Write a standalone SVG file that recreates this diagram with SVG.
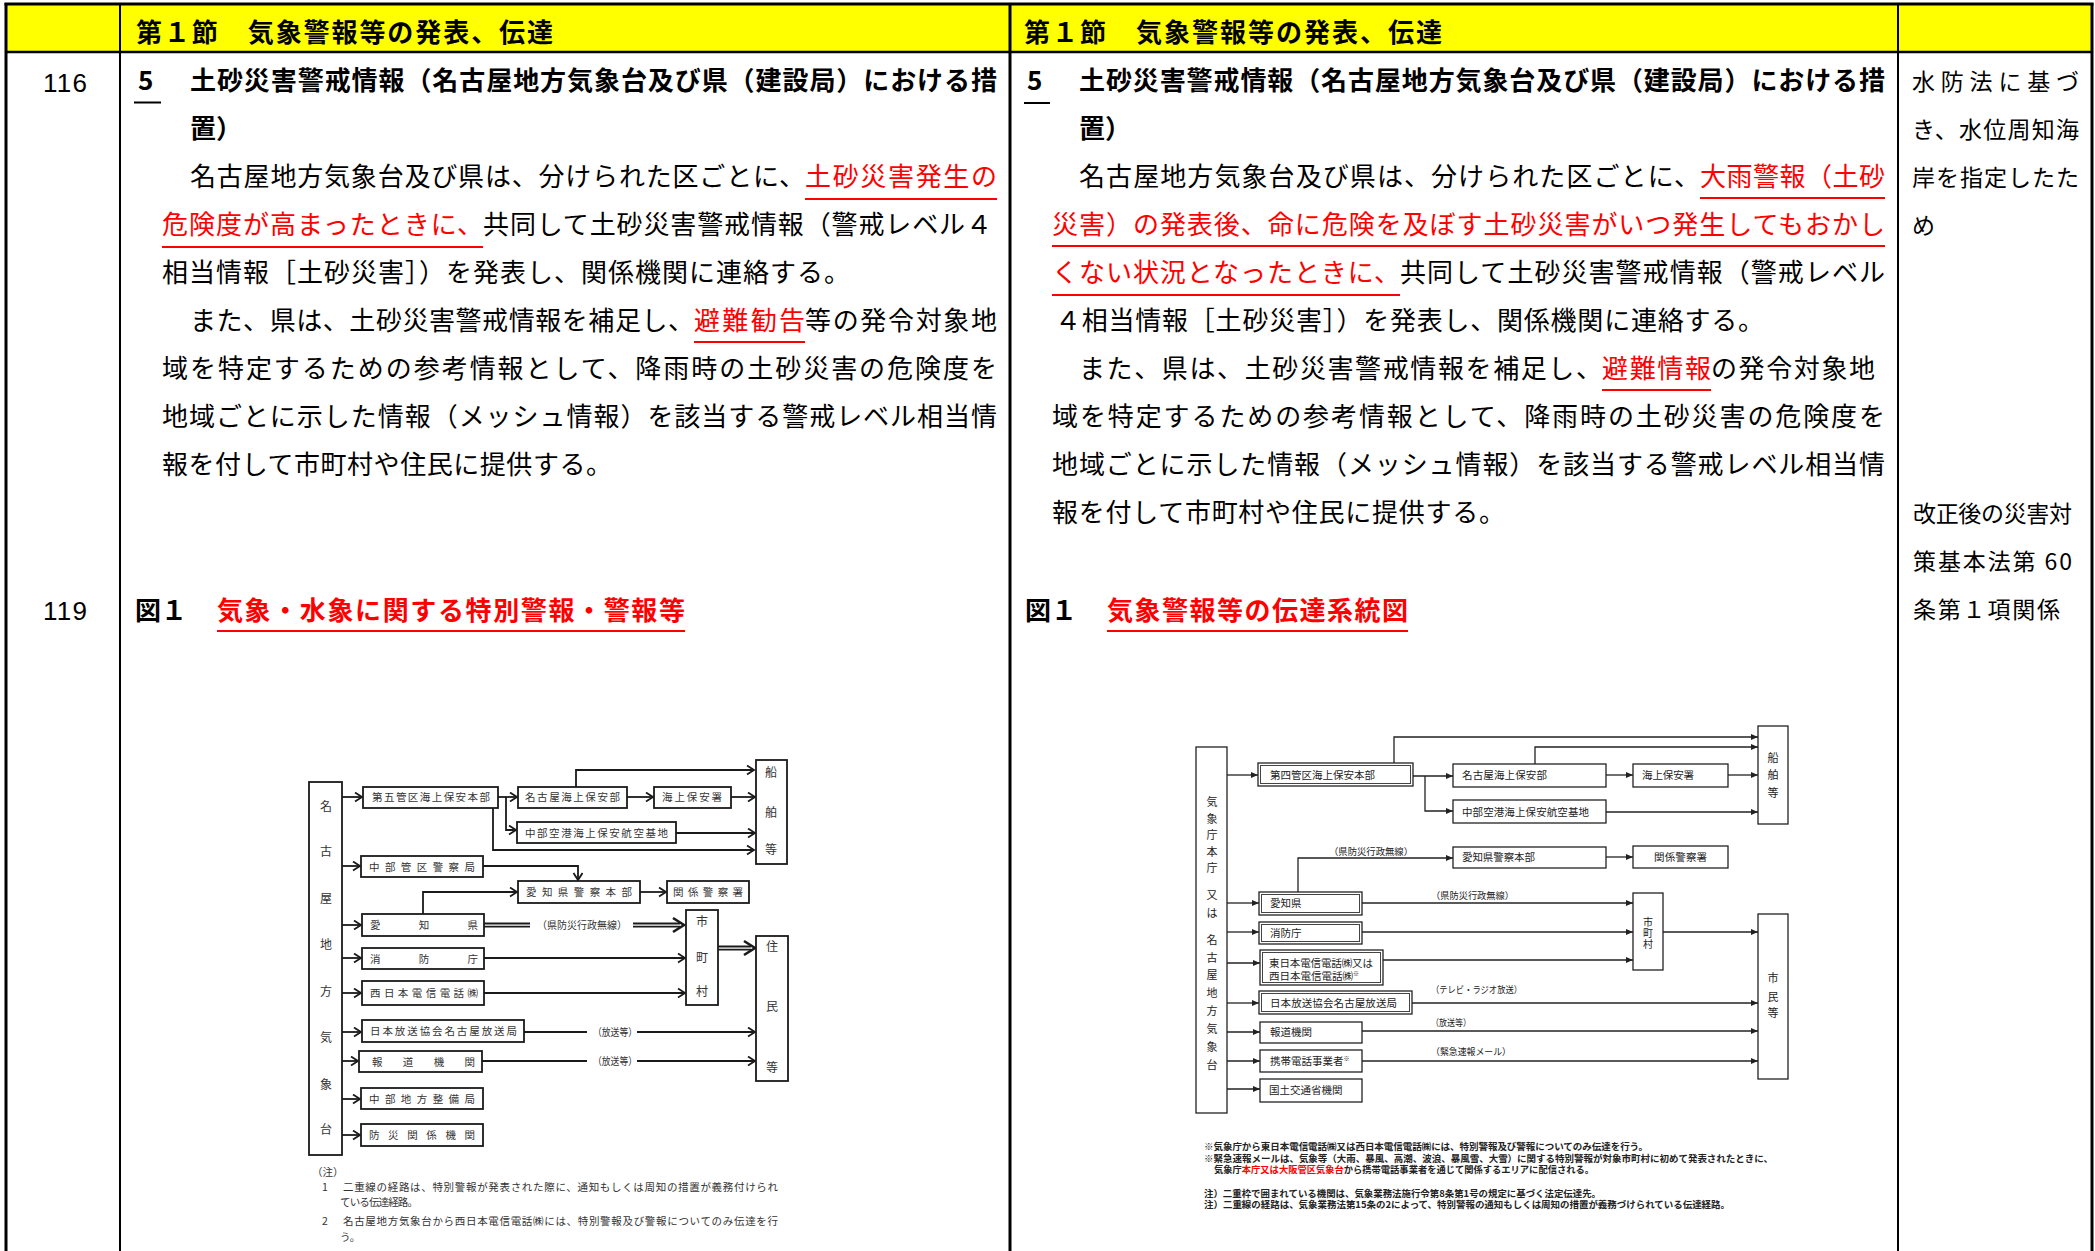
<svg xmlns="http://www.w3.org/2000/svg" width="2095" height="1251" viewBox="0 0 2095 1251">
<style>
text{font-family:"Noto Sans CJK JP","Noto Sans",sans-serif;}
.bd{font-size:26px;fill:#000}
.bb{font-size:26px;font-weight:700;fill:#000}
.rd{fill:#f00}
.num{font-family:"Liberation Sans",sans-serif;font-size:26px;fill:#000}
.c3{font-size:23px;fill:#000}
.ul{stroke:#f00;stroke-width:2}
.ulk{stroke:#000;stroke-width:2}
.ob{fill:#fff;stroke:#1a1a1a;stroke-width:1.8}
.ot{font-size:10.5px;fill:#333}
.ov{font-size:12px;fill:#333;text-anchor:middle}
.oc{fill:none;stroke:#1a1a1a;stroke-width:1.8}
.och{fill:none;stroke:#1a1a1a;stroke-width:2.6}
.nb{fill:#fff;stroke:#222;stroke-width:1.3}
.nbd{fill:none;stroke:#444;stroke-width:1}
.nt{font-size:10.5px;fill:#222}
.nv{font-size:11px;fill:#222;text-anchor:middle}
.nl{font-size:9.5px;fill:#222}
.nc{fill:none;stroke:#222;stroke-width:1.3}
.nn{font-size:9.5px;font-weight:700;fill:#222}
</style>
<defs>
<marker id="oa" markerUnits="userSpaceOnUse" markerWidth="12" markerHeight="12" refX="8" refY="5" orient="auto">
<path d="M1,0.5 L8,5 L1,9.5" fill="none" stroke="#1a1a1a" stroke-width="1.8"/>
</marker>
<marker id="na" markerUnits="userSpaceOnUse" markerWidth="9" markerHeight="8" refX="7" refY="3" orient="auto">
<path d="M0,0 L7,3 L0,6 z" fill="#222"/>
</marker>
</defs>

<!-- table -->
<g id="table">
<rect x="6" y="4" width="2086" height="48" fill="#ffff00"/>
<line x1="4.5" y1="4" x2="2093.5" y2="4" stroke="#000" stroke-width="3"/>
<line x1="6" y1="3" x2="6" y2="1251" stroke="#000" stroke-width="3"/>
<line x1="2092" y1="3" x2="2092" y2="1251" stroke="#000" stroke-width="3"/>
<line x1="6" y1="52" x2="2092" y2="52" stroke="#000" stroke-width="2.5"/>
<line x1="120" y1="4" x2="120" y2="1251" stroke="#000" stroke-width="2"/>
<line x1="1010" y1="4" x2="1010" y2="1251" stroke="#000" stroke-width="3"/>
<line x1="1898" y1="4" x2="1898" y2="1251" stroke="#000" stroke-width="2"/>
</g>

<g id="header">
<text class="bb" x="136" y="42" textLength="417">第１節　気象警報等の発表、伝達</text>
<text class="bb" x="1024" y="42" textLength="418">第１節　気象警報等の発表、伝達</text>
</g>

<g id="row-numbers">
<text class="num" x="43" y="92" textLength="44">116</text>
<text class="num" x="43" y="620" textLength="44">119</text>
</g>

<!-- column 1: before -->
<g id="col-before">
<text class="bb" x="138" y="90" textLength="19">5</text>
<line class="ulk" x1="134" y1="102.5" x2="161" y2="102.5"/>
<text class="bb" x="190" y="90" textLength="807">土砂災害警戒情報（名古屋地方気象台及び県（建設局）における措</text>
<text class="bb" x="190" y="138">置）</text>
<text class="bd" x="190" y="186" textLength="615">名古屋地方気象台及び県は、分けられた区ごとに、</text>
<text class="bd rd" x="805" y="186" textLength="192">土砂災害発生の</text>
<line class="ul" x1="805" y1="199" x2="997" y2="199"/>
<text class="bd rd" x="162" y="234" textLength="321">危険度が高まったときに、</text>
<line class="ul" x1="162" y1="247" x2="483" y2="247"/>
<text class="bd" x="483" y="234" textLength="509">共同して土砂災害警戒情報（警戒レベル４</text>
<text class="bd" x="162" y="282" textLength="688">相当情報［土砂災害］）を発表し、関係機関に連絡する。</text>
<text class="bd" x="190" y="330" textLength="504">また、県は、土砂災害警戒情報を補足し、</text>
<text class="bd rd" x="694" y="330" textLength="111">避難勧告</text>
<line class="ul" x1="694" y1="342" x2="805" y2="342"/>
<text class="bd" x="805" y="330" textLength="192">等の発令対象地</text>
<text class="bd" x="162" y="378" textLength="835">域を特定するための参考情報として、降雨時の土砂災害の危険度を</text>
<text class="bd" x="162" y="426" textLength="835">地域ごとに示した情報（メッシュ情報）を該当する警戒レベル相当情</text>
<text class="bd" x="162" y="474" textLength="450">報を付して市町村や住民に提供する。</text>
<text class="bb" x="135" y="620">図１</text>
<text class="bb rd" x="217" y="620" textLength="468">気象・水象に関する特別警報・警報等</text>
<line class="ul" x1="217" y1="631" x2="685" y2="631" stroke-width="2.5"/>
</g>

<!-- column 2: after -->
<g id="col-after">
<text class="bb" x="1027" y="90" textLength="19">5</text>
<line class="ulk" x1="1024" y1="103" x2="1050" y2="103"/>
<text class="bb" x="1079" y="90" textLength="806">土砂災害警戒情報（名古屋地方気象台及び県（建設局）における措</text>
<text class="bb" x="1079" y="138">置）</text>
<text class="bd" x="1079" y="186" textLength="621">名古屋地方気象台及び県は、分けられた区ごとに、</text>
<text class="bd rd" x="1700" y="186" textLength="185">大雨警報（土砂</text>
<line class="ul" x1="1700" y1="198" x2="1885" y2="198"/>
<text class="bd rd" x="1052" y="234" textLength="833">災害）の発表後、命に危険を及ぼす土砂災害がいつ発生してもおかし</text>
<line class="ul" x1="1052" y1="246" x2="1885" y2="246"/>
<text class="bd rd" x="1052" y="282" textLength="348">くない状況となったときに、</text>
<line class="ul" x1="1052" y1="295" x2="1400" y2="295"/>
<text class="bd" x="1400" y="282" textLength="485">共同して土砂災害警戒情報（警戒レベル</text>
<text class="bd" x="1055" y="330" textLength="709">４相当情報［土砂災害］）を発表し、関係機関に連絡する。</text>
<text class="bd" x="1079" y="378" textLength="523">また、県は、土砂災害警戒情報を補足し、</text>
<text class="bd rd" x="1602" y="378" textLength="109">避難情報</text>
<line class="ul" x1="1602" y1="390" x2="1711" y2="390"/>
<text class="bd" x="1711" y="378" textLength="164">の発令対象地</text>
<text class="bd" x="1052" y="426" textLength="833">域を特定するための参考情報として、降雨時の土砂災害の危険度を</text>
<text class="bd" x="1052" y="474" textLength="833">地域ごとに示した情報（メッシュ情報）を該当する警戒レベル相当情</text>
<text class="bd" x="1052" y="522" textLength="453">報を付して市町村や住民に提供する。</text>
<text class="bb" x="1025" y="620">図１</text>
<text class="bb rd" x="1107" y="620" textLength="301">気象警報等の伝達系統図</text>
<line class="ul" x1="1107" y1="631" x2="1408" y2="631" stroke-width="2.5"/>
</g>

<!-- column 3: remarks -->
<g id="col-remarks">
<text class="c3" x="1912" y="90" textLength="167">水防法に基づ</text>
<text class="c3" x="1912" y="138" textLength="167">き、水位周知海</text>
<text class="c3" x="1912" y="186" textLength="167">岸を指定したた</text>
<text class="c3" x="1912" y="234">め</text>
<text class="c3" x="1913" y="522" textLength="159">改正後の災害対</text>
<text class="c3" x="1913" y="570" textLength="159">策基本法第 60</text>
<text class="c3" x="1913" y="618" textLength="147">条第１項関係</text>
</g>

<!-- ===== old diagram ===== -->
<g id="old-connectors">
<path class="oc" d="M342,797 H362" marker-end="url(#oa)"/>
<path class="oc" d="M498,797 H517" marker-end="url(#oa)"/>
<path class="oc" d="M506,797 V830 H516" marker-end="url(#oa)"/>
<path class="oc" d="M493,808 V850 H754" marker-end="url(#oa)"/>
<path class="oc" d="M576,787 V770 H754" marker-end="url(#oa)"/>
<path class="oc" d="M627,797 H653" marker-end="url(#oa)"/>
<path class="oc" d="M731,797 H755" marker-end="url(#oa)"/>
<path class="oc" d="M676,833 H755" marker-end="url(#oa)"/>
<path class="oc" d="M342,866 H360" marker-end="url(#oa)"/>
<path class="oc" d="M483,866 H578 V880" marker-end="url(#oa)"/>
<path class="oc" d="M423,914 V892 H517" marker-end="url(#oa)"/>
<path class="oc" d="M640,892 H666" marker-end="url(#oa)"/>
<path class="oc" d="M342,925 H361" marker-end="url(#oa)"/>
<path class="oc" d="M484,923.5 H530 M484,926.7 H530 M633,923.5 H680 M633,926.7 H680" stroke-width="1.2"/>
<path class="och" d="M673,918 L684,925 L673,932"/>
<text class="ot" x="537" y="929" textLength="90" lengthAdjust="spacingAndGlyphs">（県防災行政無線）</text>
<path class="oc" d="M342,958 H361" marker-end="url(#oa)"/>
<path class="oc" d="M484,958 H685" marker-end="url(#oa)" stroke-width="1.5"/>
<path class="oc" d="M342,993 H361" marker-end="url(#oa)"/>
<path class="oc" d="M484,993 H685" marker-end="url(#oa)" stroke-width="1.5"/>
<path class="oc" d="M718,946.5 H751 M718,949.7 H751" stroke-width="1.2"/>
<path class="och" d="M744,941 L755,948 L744,955"/>
<path class="oc" d="M342,1032 H361" marker-end="url(#oa)"/>
<path class="oc" d="M524,1032 H587 M637,1032 H754" stroke-width="1.5"/>
<path class="oc" d="M740,1032 H755" marker-end="url(#oa)" stroke-width="1.5"/>
<text class="ot" x="593" y="1035.5" textLength="44" lengthAdjust="spacingAndGlyphs">（放送等）</text>
<path class="oc" d="M342,1061 H358" marker-end="url(#oa)"/>
<path class="oc" d="M482,1061 H587 M637,1061 H754" stroke-width="1.5"/>
<path class="oc" d="M740,1061 H755" marker-end="url(#oa)" stroke-width="1.5"/>
<text class="ot" x="593" y="1065" textLength="44" lengthAdjust="spacingAndGlyphs">（放送等）</text>
<path class="oc" d="M342,1099 H360" marker-end="url(#oa)"/>
<path class="oc" d="M342,1135 H360" marker-end="url(#oa)"/>
</g>

<g id="old-jma">
<rect class="ob" x="309" y="782" width="33" height="373"/>
<text class="ov" x="326" y="811">名</text>
<text class="ov" x="326" y="856">古</text>
<text class="ov" x="326" y="903">屋</text>
<text class="ov" x="326" y="949">地</text>
<text class="ov" x="326" y="996">方</text>
<text class="ov" x="326" y="1042">気</text>
<text class="ov" x="326" y="1089">象</text>
<text class="ov" x="326" y="1134">台</text>
</g>
<g id="old-coastguard5"><rect class="ob" x="363" y="787" width="135" height="21"/><text class="ot" x="372" y="801" textLength="118">第五管区海上保安本部</text></g>
<g id="old-nagoya-cg"><rect class="ob" x="518" y="787" width="109" height="21"/><text class="ot" x="525" y="801" textLength="95">名古屋海上保安部</text></g>
<g id="old-cg-station"><rect class="ob" x="654" y="787" width="77" height="21"/><text class="ot" x="662" y="801" textLength="60">海上保安署</text></g>
<g id="old-airbase"><rect class="ob" x="517" y="822" width="159" height="21"/><text class="ot" x="525" y="836.5" textLength="143">中部空港海上保安航空基地</text></g>
<g id="old-ships"><rect class="ob" x="756" y="760" width="31" height="104"/>
<text class="ov" x="771" y="777">船</text><text class="ov" x="771" y="817">舶</text><text class="ov" x="771" y="854">等</text></g>
<g id="old-police-bureau"><rect class="ob" x="361" y="856" width="122" height="21"/><text class="ot" x="369" y="870.5" textLength="106">中部管区警察局</text></g>
<g id="old-pref-police"><rect class="ob" x="518" y="881" width="122" height="22"/><text class="ot" x="526" y="896" textLength="106">愛知県警察本部</text></g>
<g id="old-police"><rect class="ob" x="667" y="881" width="82" height="22"/><text class="ot" x="673" y="896" textLength="70">関係警察署</text></g>
<g id="old-aichi"><rect class="ob" x="362" y="914" width="122" height="22"/><text class="ot" x="370" y="929" textLength="108">愛知県</text></g>
<g id="old-municipal"><rect class="ob" x="686" y="910" width="32" height="95"/>
<text class="ov" x="702" y="926">市</text><text class="ov" x="702" y="962">町</text><text class="ov" x="702" y="996">村</text></g>
<g id="old-fdma"><rect class="ob" x="362" y="948" width="122" height="21"/><text class="ot" x="370" y="962.5" textLength="108">消防庁</text></g>
<g id="old-ntt"><rect class="ob" x="362" y="981" width="122" height="24"/><text class="ot" x="370" y="997" textLength="108">西日本電信電話㈱</text></g>
<g id="old-residents"><rect class="ob" x="756" y="936" width="32" height="145"/>
<text class="ov" x="772" y="951">住</text><text class="ov" x="772" y="1011">民</text><text class="ov" x="772" y="1072">等</text></g>
<g id="old-nhk"><rect class="ob" x="362" y="1020" width="162" height="22"/><text class="ot" x="370" y="1035" textLength="147">日本放送協会名古屋放送局</text></g>
<g id="old-press"><rect class="ob" x="359" y="1051" width="123" height="21"/><text class="ot" x="372" y="1065.5" textLength="103">報道機関</text></g>
<g id="old-mlit"><rect class="ob" x="361" y="1088" width="122" height="21"/><text class="ot" x="369" y="1102.5" textLength="106">中部地方整備局</text></g>
<g id="old-disaster"><rect class="ob" x="361" y="1124" width="122" height="22"/><text class="ot" x="369" y="1139" textLength="106">防災関係機関</text></g>

<g id="old-notes">
<text class="ot" x="312" y="1176">（注）</text>
<text class="ot" x="322" y="1191">1</text>
<text class="ot" x="343" y="1191" textLength="435">二重線の経路は、特別警報が発表された際に、通知もしくは周知の措置が義務付けられ</text>
<text class="ot" x="340" y="1206" textLength="78">ている伝達経路。</text>
<text class="ot" x="322" y="1225">2</text>
<text class="ot" x="343" y="1225" textLength="435">名古屋地方気象台から西日本電信電話㈱には、特別警報及び警報についてのみ伝達を行</text>
<text class="ot" x="340" y="1241">う。</text>
</g>

<!-- ===== new diagram ===== -->
<g id="new-connectors">
<path class="nc" d="M1227,775 H1258" marker-end="url(#na)"/>
<path class="nc" d="M1394,763 V737 H1758" marker-end="url(#na)"/>
<path class="nc" d="M1413,776 H1453" marker-end="url(#na)"/>
<path class="nc" d="M1425,776 V811 H1453" marker-end="url(#na)"/>
<path class="nc" d="M1535,764 V747 H1758" marker-end="url(#na)"/>
<path class="nc" d="M1606,775 H1633" marker-end="url(#na)"/>
<path class="nc" d="M1728,775 H1758" marker-end="url(#na)"/>
<path class="nc" d="M1606,812 H1758" marker-end="url(#na)"/>
<path class="nc" d="M1298,892 V858 H1453" marker-end="url(#na)"/>
<text class="nl" x="1329" y="854.5" textLength="84" lengthAdjust="spacingAndGlyphs">（県防災行政無線）</text>
<path class="nc" d="M1606,857 H1633" marker-end="url(#na)"/>
<path class="nc" d="M1227,903 H1259" marker-end="url(#na)"/>
<path class="nc" d="M1362,903 H1633" marker-end="url(#na)" stroke-width="1.8"/>
<text class="nl" x="1431" y="899" textLength="83" lengthAdjust="spacingAndGlyphs">（県防災行政無線）</text>
<path class="nc" d="M1227,932 H1259" marker-end="url(#na)"/>
<path class="nc" d="M1362,932 H1633" marker-end="url(#na)"/>
<path class="nc" d="M1227,963 H1260" marker-end="url(#na)"/>
<path class="nc" d="M1383,960 H1633" marker-end="url(#na)"/>
<path class="nc" d="M1663,932 H1758" marker-end="url(#na)" stroke-width="1.8"/>
<path class="nc" d="M1227,1003 H1259" marker-end="url(#na)"/>
<path class="nc" d="M1412,1003 H1758" marker-end="url(#na)" stroke-width="1.8"/>
<text class="nl" x="1431" y="992.5" textLength="91" lengthAdjust="spacingAndGlyphs">（テレビ・ラジオ放送）</text>
<path class="nc" d="M1227,1032 H1260" marker-end="url(#na)"/>
<path class="nc" d="M1362,1031 H1758" marker-end="url(#na)"/>
<text class="nl" x="1431" y="1025.5" textLength="40" lengthAdjust="spacingAndGlyphs">（放送等）</text>
<path class="nc" d="M1227,1061 H1260" marker-end="url(#na)"/>
<path class="nc" d="M1362,1061 H1758" marker-end="url(#na)"/>
<text class="nl" x="1431" y="1055" textLength="80" lengthAdjust="spacingAndGlyphs">（緊急速報メール）</text>
<path class="nc" d="M1227,1089 H1260" marker-end="url(#na)"/>
</g>

<g id="new-jma">
<rect class="nb" x="1196" y="747" width="31" height="366"/>
<text class="nv rd" x="1212" y="806">気</text>
<text class="nv rd" x="1212" y="823">象</text>
<text class="nv rd" x="1212" y="839">庁</text>
<text class="nv rd" x="1212" y="856">本</text>
<text class="nv rd" x="1212" y="872">庁</text>
<text class="nv rd" x="1212" y="899">又</text>
<text class="nv rd" x="1212" y="917">は</text>
<text class="nv" x="1212" y="944">名</text>
<text class="nv" x="1212" y="962">古</text>
<text class="nv" x="1212" y="979">屋</text>
<text class="nv" x="1212" y="997">地</text>
<text class="nv" x="1212" y="1015">方</text>
<text class="nv" x="1212" y="1033">気</text>
<text class="nv" x="1212" y="1051">象</text>
<text class="nv" x="1212" y="1069">台</text>
</g>
<g id="new-coastguard4"><rect class="nb" x="1258" y="763" width="155" height="23"/><rect class="nbd" x="1260.5" y="765.5" width="150" height="18"/><text class="nt" x="1270" y="778.5" textLength="105">第四管区海上保安本部</text></g>
<g id="new-nagoya-cg"><rect class="nb" x="1453" y="764" width="153" height="23"/><text class="nt" x="1462" y="779" textLength="85">名古屋海上保安部</text></g>
<g id="new-cg-station"><rect class="nb" x="1633" y="764" width="95" height="23"/><text class="nt" x="1642" y="779" textLength="52">海上保安署</text></g>
<g id="new-airbase"><rect class="nb" x="1453" y="800" width="153" height="23"/><text class="nt" x="1462" y="815.5" textLength="127">中部空港海上保安航空基地</text></g>
<g id="new-ships"><rect class="nb" x="1758" y="726" width="30" height="98"/>
<text class="nv" x="1773" y="762">船</text><text class="nv" x="1773" y="779">舶</text><text class="nv" x="1773" y="797">等</text></g>
<g id="new-pref-police"><rect class="nb" x="1453" y="847" width="153" height="21"/><text class="nt" x="1462" y="861" textLength="73">愛知県警察本部</text></g>
<g id="new-police"><rect class="nb" x="1633" y="846" width="95" height="22"/><text class="nt" x="1654" y="860.5" textLength="53">関係警察署</text></g>
<g id="new-aichi"><rect class="nb" x="1259" y="892" width="103" height="23"/><rect class="nbd" x="1261.5" y="894.5" width="98" height="18"/><text class="nt" x="1270" y="907">愛知県</text></g>
<g id="new-municipal"><rect class="nb" x="1633" y="893" width="30" height="77"/>
<text class="nv" x="1648" y="926" style="font-size:10px">市</text><text class="nv" x="1648" y="937" style="font-size:10px">町</text><text class="nv" x="1648" y="948" style="font-size:10px">村</text></g>
<g id="new-fdma"><rect class="nb" x="1259" y="922" width="103" height="22"/><rect class="nbd" x="1261.5" y="924.5" width="98" height="17"/><text class="nt" x="1270" y="936.5">消防庁</text></g>
<g id="new-ntt"><rect class="nb" x="1260" y="950" width="123" height="35"/><rect class="nbd" x="1262.5" y="952.5" width="118" height="30"/>
<text class="nt rd" x="1269" y="966.5" textLength="104">東日本電信電話㈱又は</text>
<text class="nt rd" x="1269" y="980">西日本電信電話㈱<tspan style="font-size:6px" dy="-4">※</tspan></text></g>
<g id="new-residents"><rect class="nb" x="1758" y="914" width="30" height="165"/>
<text class="nv" x="1773" y="982">市</text><text class="nv" x="1773" y="1001">民</text><text class="nv" x="1773" y="1017">等</text></g>
<g id="new-nhk"><rect class="nb" x="1259" y="991" width="153" height="23"/><rect class="nbd" x="1261.5" y="993.5" width="148" height="18"/><text class="nt" x="1270" y="1006.5" textLength="127">日本放送協会名古屋放送局</text></g>
<g id="new-press"><rect class="nb" x="1260" y="1022" width="102" height="21"/><text class="nt" x="1270" y="1036">報道機関</text></g>
<g id="new-mobile"><rect class="nb" x="1260" y="1050" width="102" height="22"/><text class="nt" x="1270" y="1065">携帯電話事業者<tspan style="font-size:6px" dy="-4">※</tspan></text></g>
<g id="new-mlit"><rect class="nb" x="1260" y="1079" width="102" height="23"/><text class="nt rd" x="1269" y="1094">国土交通省機関</text></g>

<g id="new-notes">
<text class="nn rd" x="1204" y="1150" textLength="444">※気象庁から東日本電信電話㈱又は西日本電信電話㈱には、特別警報及び警報についてのみ伝達を行う。</text>
<text class="nn" x="1204" y="1162" textLength="569" lengthAdjust="spacingAndGlyphs">※緊急速報メールは、気象等（大雨、暴風、高潮、波浪、暴風雪、大雪）に関する特別警報が対象市町村に初めて発表されたときに、</text>
<text class="nn" x="1214" y="1173" textLength="380" lengthAdjust="spacingAndGlyphs">気象庁<tspan fill="#f00">本庁又は大阪管区気象台</tspan>から携帯電話事業者を通じて関係するエリアに配信される。</text>
<text class="nn" x="1204" y="1196.5" textLength="397" lengthAdjust="spacingAndGlyphs">注）二重枠で囲まれている機関は、気象業務法施行令第8条第1号の規定に基づく法定伝達先。</text>
<text class="nn" x="1204" y="1208" textLength="526" lengthAdjust="spacingAndGlyphs">注）二重線の経路は、気象業務法第15条の2によって、特別警報の通知もしくは周知の措置が義務づけられている伝達経路。</text>
</g>
</svg>
